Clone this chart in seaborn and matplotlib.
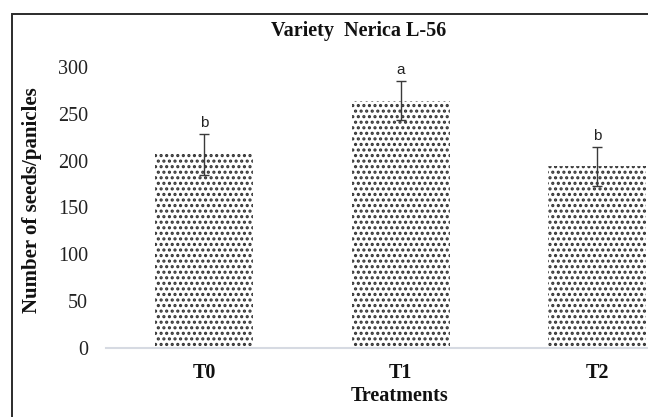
import matplotlib
matplotlib.use("Agg")
import matplotlib.pyplot as plt
import seaborn as sns
import pandas as pd
from matplotlib.patches import Rectangle

treatments = ["T0", "T1", "T2"]
seeds = [207, 264, 194]
errors = [22, 21, 21]
letters = ["b", "a", "b"]
y_ticks = [0, 50, 100, 150, 200, 250, 300]

sns.set_theme(style="white")
plt.rcParams["font.family"] = ["Liberation Serif", "DejaVu Serif"]
plt.rcParams["hatch.linewidth"] = 1.5

df = pd.DataFrame({"Treatment": treatments, "Seeds": seeds})

fig = plt.figure(figsize=(6.48, 4.17), dpi=100)
fig.patch.set_facecolor("white")
ax = fig.add_axes([106 / 648, 69 / 417, 589.5 / 648, 281 / 417])
ax.set_facecolor("white")

sns.barplot(data=df, x="Treatment", y="Seeds", color="white", width=0.5,
            errorbar=None, ax=ax, zorder=2)
for p in ax.patches:
    p.set_hatch("...")
    p.set_edgecolor("#333333")
    p.set_linewidth(0)

ax.errorbar(range(len(treatments)), seeds, yerr=errors, fmt="none",
            ecolor="#3a3a3a", elinewidth=1.0, capsize=3.8, capthick=1.0, zorder=3)

for i, (v, e, l) in enumerate(zip(seeds, errors, letters)):
    ax.annotate(l, xy=(i, v + e), xytext=(0, 5), textcoords="offset points",
                ha="center", va="baseline", fontsize=11,
                family=["Liberation Sans", "DejaVu Sans"], color="#222222")

ax.set_xlim(-0.5, 2.5)
ax.set_ylim(0, 300)
ax.set_yticks(y_ticks)
ax.set_yticklabels([str(t) for t in y_ticks], fontsize=14.5, color="#222222")
ax.set_xticks(range(len(treatments)))
ax.set_xticklabels(treatments, fontsize=14.5, fontweight="bold", color="#111111")
ax.tick_params(axis="y", length=0, pad=13)
ax.tick_params(axis="x", length=0, pad=11)
ax.set_xlabel("")
ax.set_ylabel("")
for s in ["top", "right", "left"]:
    ax.spines[s].set_visible(False)
ax.spines["bottom"].set_color("#d6dae2")
ax.spines["bottom"].set_linewidth(1.5)
ax.grid(False)

fig.text(359 / 648, 1 - 31 / 417, "Variety  Nerica L-56", ha="center", va="center",
         fontsize=14.5, fontweight="bold", color="#111111")
fig.text(400 / 648, 1 - 396 / 417, "Treatments", ha="center", va="center",
         fontsize=14.5, fontweight="bold", color="#111111")
fig.text(32 / 648, 1 - 200 / 417, "Number of seeds/panicles", ha="center", va="center",
         rotation=90, fontsize=15, fontweight="bold", color="#111111")

fig.patches.append(Rectangle((11.5 / 648, -0.2), 1.2, 0.2 + (417 - 14) / 417,
                             transform=fig.transFigure, fill=False,
                             edgecolor="#2b2b2b", linewidth=1.4, zorder=10))

fig.savefig("out.png", dpi=100, facecolor="white")
